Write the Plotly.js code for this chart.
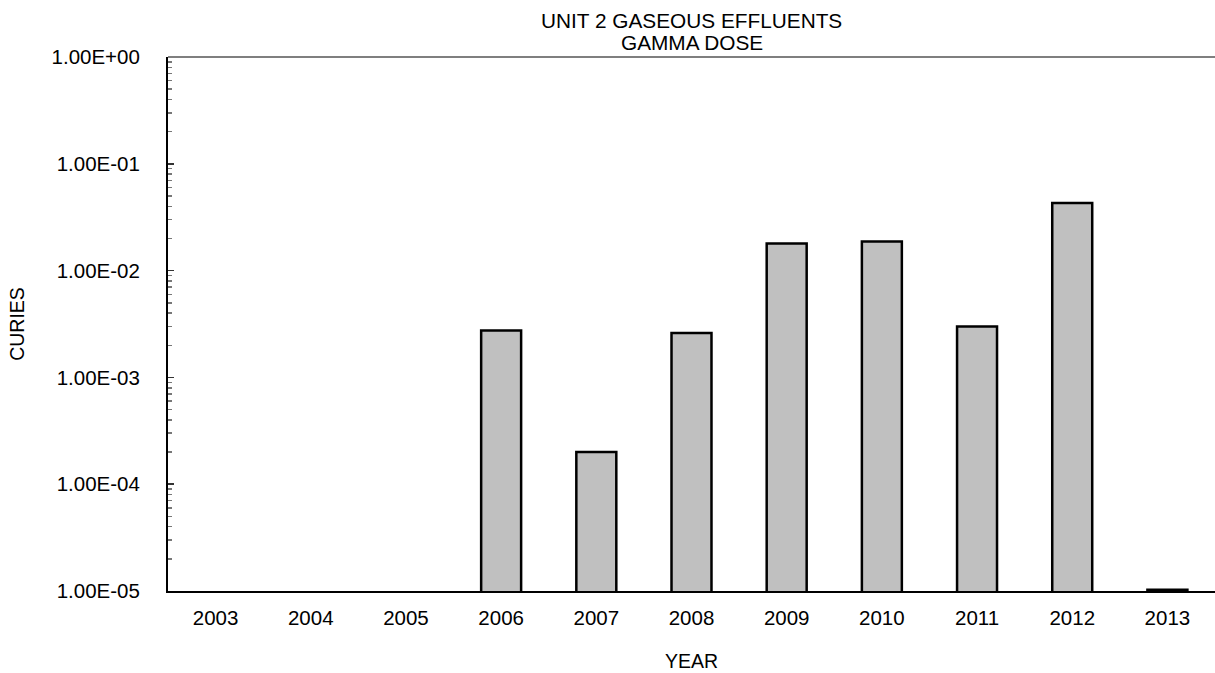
<!DOCTYPE html>
<html>
<head>
<meta charset="utf-8">
<script src="https://cdn.plot.ly/plotly-3.0.1.min.js"></script>
<style>html,body{margin:0;padding:0;background:#fff;}#chart{width:1215px;height:673px;}</style>
</head>
<body>
<div id="chart"></div>
<script>
var years = ["2003","2004","2005","2006","2007","2008","2009","2010","2011","2012","2013"];
var curies = [null, null, null, 2.75e-3, 2.0e-4, 2.6e-3, 1.79e-2, 1.87e-2, 3.0e-3, 4.3e-2, 1.03e-5];
var yTickVals = [1e-5, 1e-4, 1e-3, 1e-2, 1e-1, 1];
var yTickText = ["1.00E-05","1.00E-04","1.00E-03","1.00E-02","1.00E-01","1.00E+00"];
var titleLines = ["UNIT 2 GASEOUS EFFLUENTS", "GAMMA DOSE"];

var font = "Liberation Sans, Arial, sans-serif";
var trace = {
  type: "bar",
  x: years,
  y: curies,
  marker: {color: "#c0c0c0", line: {color: "#000000", width: 2.5}},
  hoverinfo: "x+y"
};
var layout = {
  width: 1215, height: 673,
  margin: {l: 168, r: 0, t: 57, b: 82},
  paper_bgcolor: "#ffffff", plot_bgcolor: "#ffffff",
  showlegend: false,
  bargap: 0.58,
  font: {family: font, size: 20, color: "#000"},
  xaxis: {
    type: "category",
    range: [-0.5, 10.5],
    showline: true, linecolor: "#000", linewidth: 2,
    ticks: "", showgrid: false, zeroline: false,
    tickfont: {family: font, size: 20.5, color: "#000"},
    ticklabelstandoff: 7,
    title: {text: "YEAR", font: {family: font, size: 19.5, color: "#000"}, standoff: 27}
  },
  yaxis: {
    type: "log",
    range: [-5, 0],
    tickmode: "array", tickvals: yTickVals, ticktext: yTickText,
    showline: true, linecolor: "#000", linewidth: 2,
    ticks: "inside", ticklen: 6, tickwidth: 1.5, tickcolor: "#333",
    minor: {ticks: "inside", ticklen: 4, tickwidth: 1.5, tickcolor: "#777", dtick: "D1", showgrid: false},
    showgrid: false, zeroline: false,
    tickfont: {family: font, size: 20.5, color: "#000"},
    ticklabelstandoff: 22,
    title: {text: "CURIES", font: {family: font, size: 19.5, color: "#000"}, standoff: 22}
  },
  shapes: [{type: "line", xref: "paper", yref: "paper", x0: 0, x1: 1, y0: 1, y1: 1,
            line: {color: "#555", width: 1.5}}],
  annotations: [
    {text: titleLines[0], xref: "paper", yref: "paper", x: 0.5, y: 1, yshift: 37,
     showarrow: false, xanchor: "center", yanchor: "middle", font: {family: font, size: 20.8, color: "#000"}},
    {text: titleLines[1], xref: "paper", yref: "paper", x: 0.5, y: 1, yshift: 15,
     showarrow: false, xanchor: "center", yanchor: "middle", font: {family: font, size: 20.8, color: "#000"}}
  ]
};
Plotly.newPlot("chart", [trace], layout, {displayModeBar: false, staticPlot: true});
</script>
</body>
</html>
